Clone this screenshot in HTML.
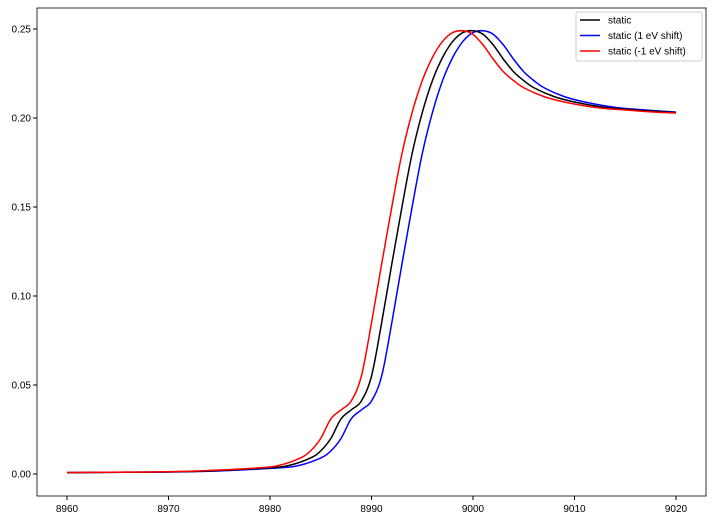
<!DOCTYPE html>
<html><head><meta charset="utf-8"><style>
body{margin:0;background:#fff;font-family:"Liberation Sans",sans-serif}
svg text{font-family:"Liberation Sans",sans-serif;font-size:10px;fill:#000}
</style></head><body>
<svg id="c" width="713" height="520"></svg>
<script>
const energies=[8958,8960,8965,8970,8975,8980,8982,8984,8985,8986,8987,8988,8989,8990,8991,8992,8993,8994,8995,8996,8997,8998,8999,9000,9001,9002,9003,9004,9005,9006,9008,9010,9013,9016,9020,9022];
const staticVals=[0.0008,0.0008,0.001,0.0012,0.002,0.0035,0.005,0.009,0.013,0.02,0.031,0.036,0.041,0.055,0.085,0.118,0.15,0.18,0.203,0.221,0.234,0.243,0.248,0.249,0.247,0.241,0.233,0.226,0.221,0.217,0.212,0.209,0.206,0.2045,0.203,0.2027];
const seriesNames=["static","static (1 eV shift)","static (-1 eV shift)"];
const seriesShifts=[0,1,-1];
const seriesColors=["#000","#00f","#f00"];
const xTicks=[8960,8970,8980,8990,9000,9010,9020];
const yTicks=[0,0.05,0.10,0.15,0.20,0.25];
const NS="http://www.w3.org/2000/svg",svg=document.getElementById('c');
const L=37,R=706,T=8,B=496;
const X=e=>67+(e-8960)*(676-67)/60;
const Y=v=>474-v*(474-29)/0.25;
function mk(t,a,p){const e=document.createElementNS(NS,t);for(const k in a)e.setAttribute(k,a[k]);(p||svg).appendChild(e);return e;}
const defs=mk('defs',{});const cp=mk('clipPath',{id:'clip'},defs);mk('rect',{x:X(8960),y:0,width:X(9020)-X(8960),height:520},cp);
xTicks.forEach(t=>{const g=mk('g',{});


mk('line',{x1:X(t),x2:X(t),y1:B,y2:B+4,stroke:'#000'},g);
const tx=mk('text',{x:X(t),y:B+16,'text-anchor':'middle'},g);tx.textContent=t;});
yTicks.forEach(t=>{const g=mk('g',{});


mk('line',{x1:L-4,x2:L,y1:Y(t),y2:Y(t),stroke:'#000'},g);
const tx=mk('text',{x:L-6,y:Y(t)+3.5,'text-anchor':'end'},g);tx.textContent=t.toFixed(2);});
function path(pts){let d=`M${pts[0][0]},${pts[0][1]}`;
for(let i=0;i<pts.length-1;i++){const p0=pts[Math.max(i-1,0)],p1=pts[i],p2=pts[i+1],p3=pts[Math.min(i+2,pts.length-1)];
d+=` C${p1[0]+(p2[0]-p0[0])/6},${p1[1]+(p2[1]-p0[1])/6} ${p2[0]-(p3[0]-p1[0])/6},${p2[1]-(p3[1]-p1[1])/6} ${p2[0]},${p2[1]}`;}return d;}
[1,0,2].forEach(i=>{const pts=energies.map((e,j)=>[X(e+seriesShifts[i]),Y(staticVals[j])]);
const p=mk('path',{d:path(pts),fill:'none',stroke:seriesColors[i],'stroke-width':1.5,'clip-path':'url(#clip)'});

});
const ax=mk('rect',{x:L,y:T,width:R-L,height:B-T,fill:'none',stroke:'#000','stroke-width':0.8});


const lg=mk('g',{});


mk('rect',{x:576,y:12,width:126,height:49,fill:'#fff',stroke:'#ccc',rx:2},lg);
seriesNames.forEach((n,i)=>{const g=mk('g',{},lg);


const y=20+i*15.5;mk('line',{x1:580,x2:600,y1:y,y2:y,stroke:seriesColors[i],'stroke-width':1.5},g);
const t=mk('text',{x:608,y:y+3.5},g);t.textContent=n;});
</script></body></html>
